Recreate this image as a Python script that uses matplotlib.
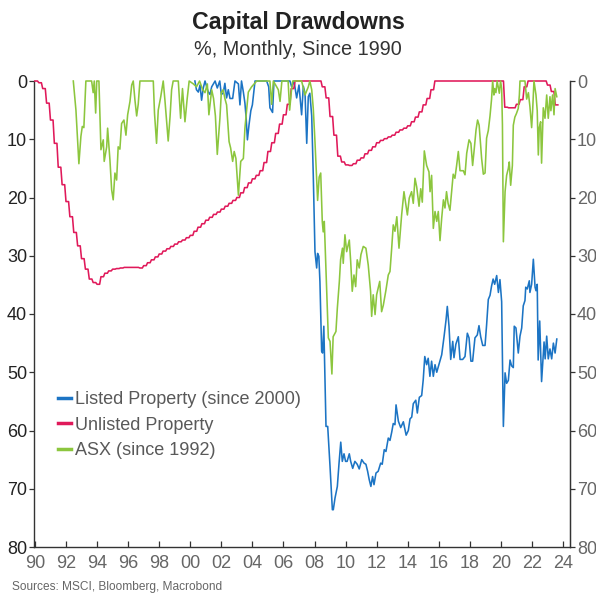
import numpy as np
import matplotlib
matplotlib.use("Agg")
import matplotlib.pyplot as plt
from matplotlib.lines import Line2D

plt.rcParams['font.family'] = ['Liberation Sans', 'DejaVu Sans']

# ---------------- data (drawdown, %) ----------------
# Unlisted property: quarterly values 1990Q1 .. 2023Q3 (held monthly)
unlisted_start = 1990.0
unlisted_q = [
    0, 0.3, 1.3, 3.8,          # 1990
    6.7, 10.7, 14.8, 17.8,     # 1991
    20.7, 23.3, 26.0, 28.3,    # 1992
    30.5, 32.3, 34.0, 34.6,    # 1993
    34.9, 33.6, 33.0, 32.6,    # 1994
    32.3, 32.2, 32.1, 32.0,    # 1995
    32.0, 32.0, 32.0, 32.1,    # 1996
    31.7, 31.2, 30.7, 30.2,    # 1997
    29.7, 29.2, 28.8, 28.4,    # 1998
    28.0, 27.6, 27.3, 26.9,    # 1999
    26.5, 25.8, 25.1, 24.5,    # 2000
    23.9, 23.4, 22.9, 22.5,    # 2001
    22.0, 21.5, 21.0, 20.5,    # 2002
    20.0, 19.2, 18.3, 17.5,    # 2003
    16.8, 16.2, 15.4, 14.0,    # 2004
    12.1, 10.6, 9.0, 7.4,      # 2005
    5.8, 4.0, 1.3, 0,          # 2006
    0, 0, 0, 0,                # 2007
    0, 0, 1.0, 2.9,            # 2008
    6.1, 9.3, 12.9, 13.9,      # 2009
    14.4, 14.5, 14.2, 13.6,    # 2010
    13.2, 12.5, 11.9, 11.3,    # 2011
    10.6, 10.2, 9.9, 9.6,      # 2012
    9.3, 8.8, 8.4, 8.1,        # 2013
    7.7, 7.0, 6.2, 5.3,        # 2014
    4.1, 3.0, 1.5, 0,          # 2015
    0, 0, 0, 0,                # 2016
    0, 0, 0, 0,                # 2017
    0, 0, 0, 0,                # 2018
    0, 0, 0, 0,                # 2019
    0, 4.5, 4.6, 4.6,          # 2020
    4.0, 3.2, 1.0, 0,          # 2021
    0, 0, 0, 0,                # 2022
    0.7, 1.8, 4.1,             # 2023
]

# ASX (since 1992)
asx_t = [1992.47, 1992.64, 1992.83, 1992.96, 1993.05, 1993.15, 1993.28, 1993.65, 1993.75, 1993.82,
         1993.91, 1993.98, 1994.12, 1994.19, 1994.25, 1994.40, 1994.46, 1994.62, 1994.68, 1994.83,
         1994.94, 1995.04, 1995.15, 1995.26, 1995.36, 1995.47, 1995.58, 1995.73, 1995.86, 1995.97,
         1996.12, 1996.23, 1996.33, 1996.44, 1996.55, 1996.65, 1996.76, 1997.62, 1997.70, 1997.83,
         1997.94, 1998.10, 1998.26, 1998.37, 1998.58, 1998.70, 1998.80, 1998.90, 1999.23, 1999.38,
         1999.50, 1999.66, 1999.80, 1999.93, 2000.20, 2000.40, 2000.60, 2000.80, 2000.95, 2001.10,
         2001.20, 2001.38, 2001.50, 2001.62, 2001.74, 2001.91, 2002.00, 2002.12, 2002.23, 2002.34,
         2002.50, 2002.60, 2002.73, 2002.83, 2002.94, 2003.10, 2003.25, 2003.42, 2003.52, 2003.74,
         2003.95, 2004.28, 2005.13, 2005.24, 2005.35, 2005.67, 2005.78, 2005.90, 2006.30, 2006.40,
         2006.50, 2006.60, 2007.17, 2007.39, 2007.60, 2007.70, 2007.82, 2007.92, 2008.03, 2008.14,
         2008.20, 2008.30, 2008.40, 2008.50, 2008.56, 2008.63, 2008.78, 2008.89, 2009.00, 2009.12,
         2009.20, 2009.38, 2009.47, 2009.60, 2009.68, 2009.80, 2009.85, 2009.96, 2010.07, 2010.24,
         2010.33, 2010.43, 2010.54, 2010.65, 2010.75, 2010.88, 2010.99, 2011.14, 2011.31, 2011.46,
         2011.61, 2011.68, 2011.78, 2011.90, 2012.00, 2012.20, 2012.32, 2012.43, 2012.60, 2012.75,
         2012.86, 2012.97, 2013.07, 2013.18, 2013.30, 2013.44, 2013.61, 2013.76, 2013.87, 2013.98,
         2014.10, 2014.25, 2014.36, 2014.47, 2014.58, 2014.73, 2014.84, 2014.94, 2015.07, 2015.22,
         2015.37, 2015.44, 2015.54, 2015.65, 2015.76, 2015.87, 2015.97, 2016.08, 2016.19, 2016.30,
         2016.40, 2016.50, 2016.60, 2016.72, 2016.83, 2016.93, 2017.04, 2017.15, 2017.26, 2017.37,
         2017.58, 2017.69, 2017.80, 2017.95, 2018.07, 2018.18, 2018.27, 2018.40, 2018.50, 2018.60,
         2018.76, 2018.87, 2018.98, 2019.08, 2019.19, 2019.30, 2019.40, 2019.47, 2019.55, 2019.60,
         2019.68, 2019.76, 2019.90, 2019.98, 2020.05, 2020.10, 2020.16, 2020.27, 2020.37, 2020.48,
         2020.54, 2020.63, 2020.74, 2020.80, 2020.90, 2021.00, 2021.12, 2021.19, 2021.23, 2021.55,
         2021.66, 2021.77, 2021.87, 2021.98, 2022.04, 2022.13, 2022.26, 2022.34, 2022.41, 2022.47,
         2022.56, 2022.62, 2022.73, 2022.84, 2022.95, 2023.05, 2023.16, 2023.22, 2023.33, 2023.42,
         2023.49, 2023.60]
asx_v = [0, 5, 14.2, 9.5, 7.8, 8.0, 0, 0, 2, 0,
         5.5, 0, 0, 6.7, 11.8, 10.1, 13.8, 11.3, 8.1, 13.6,
         18.7, 20.4, 15.8, 17.0, 11.3, 11.7, 7.3, 6.7, 9.3, 5.8,
         3.5, 0.7, 0, 3.3, 6.0, 4.0, 0, 0, 5.6, 10.7,
         5.0, 2.7, 0, 3.3, 10.3, 6.1, 1.5, 0, 0, 6.4,
         1.3, 7.0, 3.1, 0, 0.5, 1.0, 0, 1.5, 2.0, 0.5,
         5.8, 1.5, 3.0, 6.0, 12.6, 6.4, 2.0, 1.5, 3.0, 4.1,
         10.4, 11.5, 13.8, 12.1, 13.3, 19.6, 13.8, 13.3, 8.1, 1.9,
         1.0, 0, 0, 4.0, 0, 1.5, 3.5, 0, 0, 5.0,
         2.0, 0, 0, 2.4, 1.0, 0, 1.5, 4.7, 10.4, 17.0,
         20.5, 16.5, 15.8, 24.1, 25.9, 24.1, 35.6, 44.1, 44.7, 50.3,
         43.9, 43.0, 39.0, 34.4, 30.7, 28.7, 31.3, 26.4, 29.3, 27.3,
         31.0, 36.1, 33.3, 35.3, 30.7, 32.1, 29.8, 28.4, 28.7, 31.6,
         36.1, 40.4, 36.7, 40.1, 36.7, 34.4, 39.6, 38.5, 35.9, 33.3,
         32.7, 28.7, 24.7, 25.8, 23.3, 28.7, 23.0, 19.0, 21.0, 23.0,
         20.1, 19.0, 21.0, 16.7, 18.2, 21.5, 18.5, 20.8, 12.0, 14.5,
         15.6, 19.0, 16.2, 25.3, 22.4, 24.1, 22.4, 27.4, 23.5, 20.4,
         21.8, 19.0, 21.0, 22.2, 19.0, 16.0, 16.7, 14.5, 12.1, 15.4,
         15.4, 16.1, 12.4, 10.1, 10.7, 14.5, 12.1, 8.4, 6.7, 7.6,
         13.3, 16.0, 15.8, 9.8, 8.5, 6.0, 3.1, 0, 2.4, 1.3,
         2.0, 0, 2.1, 0, 1.3, 7.5, 27.6, 19.0, 16.2, 15.0,
         13.9, 17.9, 14.5, 7.6, 6.2, 5.6, 4.7, 2.4, 0, 0,
         3.1, 2.0, 4.4, 8.0, 5.3, 0, 2.4, 5.1, 12.7, 8.0,
         7.0, 14.1, 4.6, 6.4, 2.4, 6.4, 2.7, 5.1, 2.4, 5.8,
         1.3, 2.7]

# Listed property (since 2000)
listed_t = [2000.30, 2000.40, 2000.52, 2000.63, 2000.73, 2000.84, 2000.95, 2001.16, 2001.27, 2001.38,
            2001.60, 2001.74, 2001.90, 2002.00, 2002.12, 2002.23, 2002.34, 2002.45, 2002.56, 2002.73,
            2002.88, 2003.10, 2003.20, 2003.30, 2003.42, 2003.52, 2003.60, 2003.68, 2003.79, 2003.90,
            2004.00, 2004.17, 2004.92, 2005.05, 2005.13, 2005.30, 2005.39, 2006.42, 2006.53, 2006.68,
            2006.85, 2007.00, 2007.17, 2007.28, 2007.39, 2007.50, 2007.60, 2007.70, 2007.82, 2007.92,
            2008.03, 2008.14, 2008.20, 2008.28, 2008.35, 2008.46, 2008.52, 2008.60, 2008.67, 2008.74,
            2008.85, 2009.00, 2009.15, 2009.21, 2009.32, 2009.47, 2009.58, 2009.69, 2009.79, 2009.90,
            2010.00, 2010.10, 2010.24, 2010.33, 2010.46, 2010.60, 2010.75, 2010.88, 2011.04, 2011.19,
            2011.31, 2011.42, 2011.52, 2011.63, 2011.74, 2011.83, 2011.96, 2012.10, 2012.26, 2012.36,
            2012.49, 2012.60, 2012.75, 2012.86, 2012.97, 2013.07, 2013.18, 2013.25, 2013.40, 2013.55,
            2013.72, 2013.90, 2014.04, 2014.15, 2014.26, 2014.36, 2014.52, 2014.62, 2014.75, 2014.90,
            2015.00, 2015.10, 2015.22, 2015.32, 2015.43, 2015.54, 2015.65, 2015.76, 2015.87, 2016.04,
            2016.19, 2016.34, 2016.47, 2016.55, 2016.66, 2016.77, 2016.90, 2016.98, 2017.10, 2017.26,
            2017.37, 2017.54, 2017.69, 2017.84, 2017.95, 2018.07, 2018.18, 2018.33, 2018.48, 2018.59,
            2018.70, 2018.83, 2018.98, 2019.08, 2019.19, 2019.30, 2019.40, 2019.50, 2019.60, 2019.73,
            2019.84, 2019.94, 2020.05, 2020.16, 2020.27, 2020.37, 2020.48, 2020.59, 2020.69, 2020.80,
            2020.86, 2020.97, 2021.12, 2021.23, 2021.34, 2021.44, 2021.55, 2021.60, 2021.70, 2021.83,
            2021.87, 2021.98, 2022.09, 2022.20, 2022.26, 2022.34, 2022.40, 2022.50, 2022.62, 2022.78,
            2022.85, 2022.95, 2023.05, 2023.16, 2023.27, 2023.38, 2023.49, 2023.60]
listed_v = [0, 1.5, 1.9, 0.7, 3.3, 1.2, 0, 1.9, 2.3, 1.0,
            0, 1.2, 0, 2.3, 2.1, 0.4, 2.9, 1.5, 3.0, 3.0,
            0, 0.5, 4.1, 0, 1.9, 3.8, 6.4, 10.1, 7.4, 5.1,
            4.1, 0, 0, 1.0, 4.6, 5.4, 0, 0, 1.0, 0,
            2.9, 0.7, 5.8, 0.9, 2.1, 10.7, 2.7, 2.1, 6.0, 16.1,
            29.3, 32.1, 29.6, 30.1, 34.5, 46.4, 46.7, 42.1, 50.4, 59.3,
            59.3, 66.2, 73.6, 73.6, 71.6, 69.6, 65.6, 62.0, 65.3, 64.0,
            65.3, 65.3, 64.0, 65.3, 66.5, 65.3, 65.8, 66.6, 65.0, 65.6,
            65.8, 67.0, 68.4, 69.6, 67.9, 69.3, 67.3, 67.0, 65.6, 65.8,
            63.3, 63.6, 61.3, 61.7, 60.3, 58.8, 59.0, 55.6, 58.4, 59.5,
            58.5, 60.8, 60.0, 58.0, 57.7, 55.4, 54.8, 57.0, 54.3, 54.0,
            51.3, 47.3, 48.7, 47.6, 50.7, 48.1, 50.7, 48.7, 50.0, 48.4,
            47.0, 43.9, 41.0, 38.7, 42.1, 47.8, 44.7, 47.5, 45.2, 43.9,
            47.8, 47.8, 47.3, 43.3, 44.1, 48.1, 48.1, 44.1, 43.6, 42.0,
            43.9, 45.4, 45.4, 41.9, 37.5, 36.8, 35.2, 34.0, 34.9, 33.4,
            36.3, 34.1, 37.9, 59.3, 50.1, 51.9, 51.4, 47.9, 48.9, 49.2,
            42.1, 42.4, 46.7, 43.8, 42.4, 38.6, 37.7, 35.4, 35.7, 34.3,
            36.3, 34.9, 30.6, 35.4, 36.0, 34.9, 47.9, 41.2, 51.6, 44.8,
            47.7, 43.8, 47.7, 46.0, 47.7, 45.0, 46.7, 44.3]

series_labels = ["Listed Property (since 2000)", "Unlisted Property", "ASX (since 1992)"]
series_colors = ["#1c74c4", "#e0195a", "#8cc63e"]
y_ticks = [0, 10, 20, 30, 40, 50, 60, 70, 80]
x_ticks = list(range(1990, 2025, 2))
x_ticklabels = [f"{y % 100:02d}" for y in x_ticks]

# ---------------- figure ----------------
W, H = 596, 594
fig = plt.figure(figsize=(W / 100, H / 100), dpi=100)
ax = fig.add_axes([34 / W, 1 - 547 / H, (570 - 34) / W, (547 - 81) / H])

unl_t = unlisted_start + np.arange(len(unlisted_q) * 3) / 12.0
unl_v = np.repeat(unlisted_q, 3)

lw = 1.15
ax.plot(listed_t, listed_v, color=series_colors[0], lw=lw, clip_on=False, zorder=3)
ax.plot(unl_t, unl_v, color=series_colors[1], lw=lw, clip_on=False, zorder=4)
ax.plot(asx_t, asx_v, color=series_colors[2], lw=lw, clip_on=False, zorder=5)

ax.set_xlim(1989.94, 2024.45)
ax.set_ylim(80, 0)

dark = "#333333"
grey = "#666666"
for s in ["left", "right", "bottom"]:
    ax.spines[s].set_color(dark)
    ax.spines[s].set_linewidth(1.0)
ax.spines["top"].set_visible(False)

ax.set_yticks(y_ticks)
ax.set_yticklabels([str(v) for v in y_ticks])
ax.tick_params(axis="y", direction="out", length=3.5, width=0.9, color=dark,
               labelsize=13, labelcolor="#222222", pad=1.5)
ax.set_xticks(x_ticks)
ax.set_xticklabels(x_ticklabels)
ax.tick_params(axis="x", direction="in", length=4, width=0.9, color=dark,
               labelsize=13, labelcolor=grey, pad=6)

ax2 = ax.twinx()
ax2.set_ylim(80, 0)
ax2.set_yticks(y_ticks)
ax2.set_yticklabels([str(v) for v in y_ticks])
ax2.tick_params(axis="y", direction="out", length=3.5, width=0.9, color=dark,
                labelsize=13, labelcolor=grey, pad=1.5)
for s in ["left", "top", "bottom"]:
    ax2.spines[s].set_visible(False)
ax2.spines["right"].set_color(dark)

handles = [Line2D([], [], color=c, lw=2.5) for c in series_colors]
leg = ax.legend(handles, series_labels, loc="upper left", bbox_to_anchor=(0.031, 0.35),
                frameon=False, fontsize=13, handlelength=0.75, handletextpad=0.2,
                labelspacing=0.47, borderaxespad=0)
for t in leg.get_texts():
    t.set_color("#595959")

fig.text(0.5, 1 - 29 / H, "Capital Drawdowns", ha="center", va="baseline",
         fontsize=16.7, fontweight="bold", color="#222222")
fig.text(0.5, 1 - 55 / H, "%, Monthly, Since 1990", ha="center", va="baseline",
         fontsize=14.3, color="#333333")
fig.text(12 / W, 1 - 587 / H, "Sources: MSCI, Bloomberg, Macrobond", ha="left", va="center",
         fontsize=8.6, color=grey)

fig.savefig("out.png", dpi=100)
